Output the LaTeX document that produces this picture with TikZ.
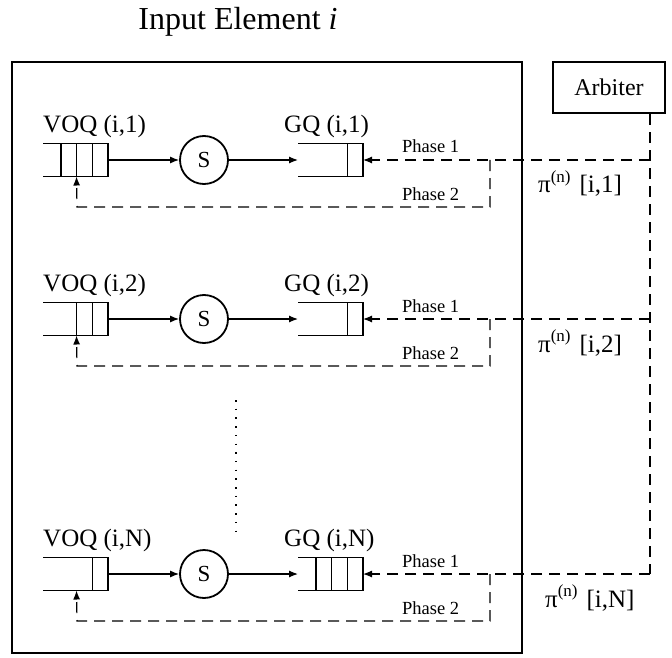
\documentclass[tikz,border=0pt]{standalone}
\usepackage{fontspec}
\setmainfont{Liberation Serif}
\usetikzlibrary{arrows.meta}
\tikzset{
  frame/.style={draw, line width=2.6pt},
  qnode/.style={minimum width=65pt, minimum height=33pt, inner sep=0pt, outer sep=0pt},
  qline/.style={line width=1.2pt},
  srv/.style={circle, draw, line width=1.8pt, minimum size=48pt, inner sep=0pt, font=\fontsize{23}{23}\selectfont},
  solidarrow/.style={line width=1.2pt, -{Latex[length=9pt,width=7pt]}},
  dl/.style={line width=1.2pt, dash pattern=on 11pt off 7pt},
  lbl/.style={font=\fontsize{25}{28}\selectfont, inner sep=0pt, anchor=base west},
  phl/.style={font=\fontsize{18.5}{20}\selectfont, inner sep=0pt, anchor=base west},
}
\newcommand\qbox[4]{%
  \node[qnode] (#1) at (#2,#3) {};
  \draw[qline] (#1.north west) -- (#1.north east) -- (#1.south east) -- (#1.south west);
  \foreach \k in {1,...,#4} \draw[qline] ([xshift=-\k*15.7pt]#1.north east) -- ([xshift=-\k*15.7pt]#1.south east);
}
\newcommand\qrow[6]{% index, y, voq cells, gq cells, label, pi x
  \node[lbl] (lv#1) at (43,#2-28) {VOQ (i,#5)};
  \node[lbl] (lg#1) at (284,#2-28) {GQ (i,#5)};
  \qbox{voq#1}{75.5}{#2}{#3}
  \node[srv] (s#1) at (204,#2) {S};
  \qbox{gq#1}{330.5}{#2}{#4}
  \draw[solidarrow] (voq#1.east) -- (s#1.west);
  \draw[solidarrow] (s#1.east) -- (gq#1.west);
  \coordinate (a#1) at (650,#2);
  \coordinate (j#1) at (490,#2);
  \draw[dl, -{Latex[length=9pt,width=7pt]}] (a#1) -- (gq#1.east);
  \draw[dl, -{Latex[length=9pt,width=7pt]}] (j#1) -- (490,#2+47) -- (77,#2+47) -- ([xshift=33.5pt]voq#1.south west);
  \node[phl] (p1#1) at (402,#2-7) {Phase 1};
  \node[phl] (p2#1) at (402,#2+40) {Phase 2};
  \node[lbl] (pi#1) at (#6,#2+33) {π\raisebox{0.42em}{\fontsize{17}{17}\selectfont(n)}\hspace{9pt}[i,#5]};
}
\begin{document}
\begin{tikzpicture}[x=1pt,y=-1pt]
\useasboundingbox (0,0) rectangle (672,658);
\node[font=\fontsize{32}{36}\selectfont, inner sep=0pt] (title) at (238,22) {Input Element \textit{i}};
\node[frame, minimum width=510pt, minimum height=591pt, inner sep=0pt] (ie) at (267,357.5) {};
\node[frame, minimum width=112pt, minimum height=51pt, inner sep=0pt, font=\fontsize{24}{26}\selectfont] (arb) at (609,87.5) {Arbiter};
\qrow{1}{160}{3}{1}{1}{538}
\qrow{2}{319}{2}{1}{2}{538}
\qrow{3}{574}{1}{3}{N}{545}
\draw[dl] ([xshift=41pt]arb.south) -- (a3);
\draw[line width=1.2pt, dash pattern=on 1.5pt off 7.2pt] (236,400) coordinate (d1) -- (236,534) coordinate (d2);
\end{tikzpicture}
\end{document}
